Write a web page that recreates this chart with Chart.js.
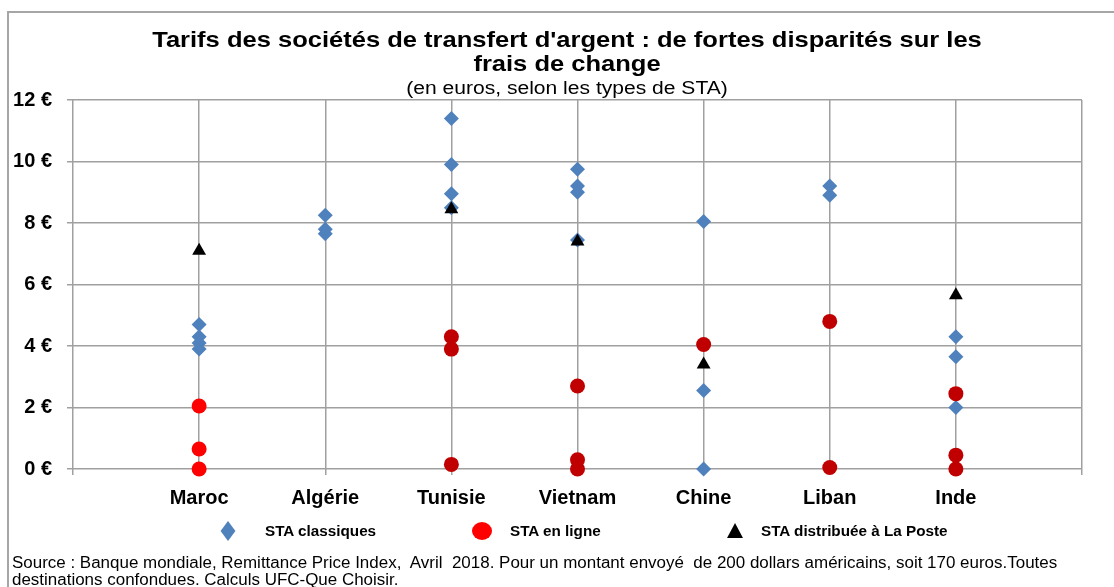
<!DOCTYPE html>
<html>
<head>
<meta charset="utf-8">
<script src="https://cdn.jsdelivr.net/npm/chart.js@4"></script>
<style>
  body { margin: 0; background: #fff; }
  #wrap { position: relative; width: 1114px; height: 587px; overflow: hidden; background: #fff; font-family: "Liberation Sans", Arial, sans-serif; color: #000; }
  #frame { position: absolute; left: 7px; top: 11px; width: 1300px; height: 800px; border-left: 2px solid #a6a6a6; border-top: 2px solid #a6a6a6; }
  #graph { position: absolute; left: 0; top: 0; }
  .title { position: absolute; left: 0; width: 1134px; text-align: center; font-weight: bold; font-size: 22px; line-height: 24px; top: 28px; transform: scaleX(1.16); }
  .sub { position: absolute; left: 0; width: 1134px; text-align: center; font-size: 18px; line-height: 20px; top: 78px; transform: scaleX(1.17); }
  .source { position: absolute; left: 12px; top: 554px; font-size: 16px; line-height: 17px; white-space: nowrap; transform: scaleX(1.06); transform-origin: 0 0; }
  .leg { position: absolute; top: 522px; font-weight: bold; font-size: 14px; line-height: 18px; white-space: nowrap; transform: scaleX(1.09); transform-origin: 0 0; }
  .mk { position: absolute; }
  .mk.diamond { left: 221px; top: 524px; width: 14px; height: 14px; background: #4f81bd; transform: scaleX(0.75) rotate(45deg); }
  .mk.circle { left: 472px; top: 522px; width: 20px; height: 18px; border-radius: 50%; background: #ff0000; }
  .mk.triangle { left: 727px; top: 523px; width: 0; height: 0; border-left: 8px solid transparent; border-right: 8px solid transparent; border-bottom: 15px solid #000; }
</style>
</head>
<body>
<div id="wrap">
  <div id="frame"></div>
  <canvas id="graph" width="1114" height="587"></canvas>
  <div class="title">Tarifs des sociétés de transfert d'argent : de fortes disparités sur les<br>frais de change</div>
  <div class="sub">(en euros, selon les types de STA)</div>
  <div id="legend"></div>
  <div class="source">Source : Banque mondiale, Remittance Price Index,&nbsp; Avril&nbsp; 2018. Pour un montant envoyé&nbsp; de 200 dollars américains, soit 170 euros.Toutes<br>destinations confondues. Calculs UFC-Que Choisir.</div>
</div>
<script>
// pays (positions 1..7 sur l'axe)
const categories = ['Maroc', 'Algérie', 'Tunisie', 'Vietnam', 'Chine', 'Liban', 'Inde'];

// STA classiques, une liste par pays
const staClassiques = [
  [4.7, 4.3, 4.1, 3.9],
  [8.25, 7.8, 7.65],
  [11.4, 9.9, 8.95, 8.5],
  [9.75, 9.2, 9.0, 7.45],
  [8.05, 2.55, 0],
  [9.2, 8.9],
  [4.3, 3.65, 2.0]
];

// STA en ligne
const staEnLigne = [
  [2.05, 0.65, 0],
  [],
  [4.3, 3.9, 0.15],
  [2.7, 0.3, 0],
  [4.05],
  [4.8, 0.05],
  [2.45, 0.45, 0]
];

// STA distribuée à La Poste
const staPoste = [7.1, null, 8.45, 7.4, 3.4, null, 5.65];

const yTicks = [0, 2, 4, 6, 8, 10, 12];
const seriesNames = ['STA classiques', 'STA en ligne', 'STA distribuée à La Poste'];

function toPoints(lists) {
  const pts = [];
  lists.forEach((vals, i) => vals.forEach(v => pts.push({ x: i + 1, y: v })));
  return pts;
}

const classPts = toPoints(staClassiques);
const lignePts = toPoints(staEnLigne);
const lignePtColors = [];
staEnLigne.forEach((vals, i) => vals.forEach(() => lignePtColors.push(i === 0 ? '#ff0000' : '#c00000')));
const postePts = [];
staPoste.forEach((v, i) => { if (v !== null) postePts.push({ x: i + 1, y: v }); });

// legend (html)
const legendPos = [
  { cls: 'diamond', text: 265 },
  { cls: 'circle', text: 510 },
  { cls: 'triangle', text: 761 }
];
const legendEl = document.getElementById('legend');
seriesNames.forEach((name, i) => {
  const mk = document.createElement('div');
  mk.className = 'mk ' + legendPos[i].cls;
  legendEl.appendChild(mk);
  const t = document.createElement('div');
  t.className = 'leg';
  t.style.left = legendPos[i].text + 'px';
  t.textContent = name;
  legendEl.appendChild(t);
});

const gridGrey = '#a0a0a0';
const labelFont = { family: '"Liberation Sans", Arial, sans-serif', size: 20, weight: 'bold' };

const config = {
  type: 'scatter',
  data: {
    datasets: [{
      label: seriesNames[0],
      data: classPts,
      pointStyle: 'rectRot',
      pointRadius: 7.5,
      pointBackgroundColor: '#4f81bd',
      pointBorderWidth: 0,
      borderColor: '#4f81bd',
      clip: false,
      order: 2
    }, {
      label: seriesNames[1],
      data: lignePts,
      pointStyle: 'circle',
      pointRadius: 7.5,
      pointBackgroundColor: lignePtColors,
      pointBorderWidth: 0,
      borderColor: '#ff0000',
      clip: false,
      order: 1
    }, {
      label: seriesNames[2],
      data: postePts,
      pointStyle: 'triangle',
      pointRadius: 8,
      pointBackgroundColor: '#000',
      pointBorderWidth: 0,
      borderColor: '#000',
      clip: false,
      order: 0
    }]
  },
  options: {
    responsive: false,
    animation: false,
    layout: { padding: { top: 100, left: 0, right: 32, bottom: 72 } },
    scales: {
      x: {
        type: 'linear',
        min: 0,
        max: 8,
        afterFit: s => { s.height = 46; },
        afterBuildTicks: s => { s.ticks = [0, 1, 2, 3, 4, 5, 6, 7, 8].map(v => ({ value: v })); },
        ticks: {
          autoSkip: false,
          maxRotation: 0,
          color: '#000',
          font: labelFont,
          padding: 11,
          callback: v => categories[v - 1] || ''
        },
        grid: { color: gridGrey, lineWidth: 1.5, tickLength: 6, tickColor: gridGrey },
        border: { display: false }
      },
      y: {
        min: 0,
        max: 12,
        afterFit: s => { s.width = 73; },
        afterBuildTicks: s => { s.ticks = yTicks.map(v => ({ value: v })); },
        ticks: {
          color: '#000',
          font: labelFont,
          padding: 15,
          callback: v => v + ' €'
        },
        grid: { color: gridGrey, lineWidth: 1.5, tickLength: 6, tickColor: gridGrey },
        border: { display: false }
      }
    },
    plugins: {
      tooltip: { enabled: false },
      legend: { display: false }
    }
  }
};

// render chart
const myChart = new Chart(document.getElementById('graph'), config);
</script>
</body>
</html>
